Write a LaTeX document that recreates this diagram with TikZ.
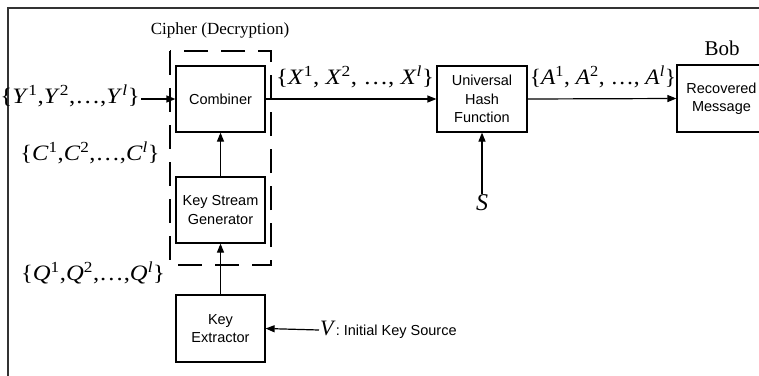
\documentclass[tikz,border=0pt]{standalone}
\usepackage{fontspec}
\setmainfont{Liberation Serif}
\newfontfamily\boxfont{Liberation Sans}
\usetikzlibrary{arrows.meta}

% italic letter with a superscript, and the {Z^1, Z^2, ..., Z^l} sequence
% #1 = horizontal stretch, #2 = separator after commas, #3 = letter
\newcommand\supv[2]{\textit{#1}\textsuperscript{#2}}
\newcommand\seqof[3]{\scalebox{#1}[1]{\{\supv{#3}{1},#2\supv{#3}{2},#2\ldots,#2\supv{#3}{\textit{l}}\}}}

\tikzset{
  blockbox/.style={draw, line width=1.2pt, minimum width=89pt, minimum height=66pt,
    align=center, inner sep=1pt, font=\boxfont\fontsize{14.5}{18.5}\selectfont},
  seqlabel/.style={inner sep=1pt, font=\fontsize{22}{25}\selectfont},
  flow/.style={line width=1.2pt, -{Triangle[length=9pt,width=7pt]}},
}

\begin{document}
\begin{tikzpicture}[x=1pt,y=-1pt]
\useasboundingbox (0,0) rectangle (759,375);
\clip (0,0) rectangle (759,375);

% surrounding frame (continues past the right and bottom edges)
\draw[line width=2pt, black!80] (8,390) -- (8,8) -- (780,8);

% cipher group
\node[font=\fontsize{17}{20}\selectfont] (ciphertitle) at (220,30) {Cipher (Decryption)};
\draw[line width=1.2pt, dash pattern=on 24pt off 13pt] (170,51) rectangle (271,265);

\node[blockbox] (comb) at (220.5,99) {Combiner};
\node[blockbox] (ksg) at (220.5,210) {Key Stream\\Generator};
\node[blockbox, minimum height=67pt] (kex) at (220.5,328.5) {Key\\Extractor};
\node[blockbox, minimum width=90pt] (hash) at (482,99) {Universal\\Hash\\Function};
\node[blockbox, minimum height=67pt] (rec) at (721.5,98.5) {Recovered\\Message};
\node[font=\fontsize{21}{24}\selectfont] (bob) at (722,48) {Bob};

% sequence labels
\node[seqlabel, anchor=east] (ylab) at (141,96) {\seqof{1.13}{}{Y}};
\node[seqlabel] (clab) at (90,153) {\seqof{1.11}{}{C}};
\node[seqlabel] (qlab) at (93,273) {\seqof{1.12}{}{Q}};
\node[seqlabel] (xlab) at (355,77) {\seqof{1.13}{ }{X}};
\node[seqlabel] (alab) at (603,77) {\seqof{1.06}{ }{A}};

% key inputs
\node[inner sep=1pt, font=\fontsize{24}{26}\selectfont\itshape] (slab) at (482,203) {S};
\node[inner sep=1pt, anchor=west] (vlab) at (319,330)
  {\fontsize{22}{24}\selectfont\textit{V}\boxfont\fontsize{14.5}{18}\selectfont: Initial Key Source};

% connectors
\draw[flow] (ylab.east |- comb.west) -- (comb.west);
\draw[flow] (ksg.north) -- (comb.south);
\draw[flow] (kex.north) -- (ksg.south);
\draw[flow] (comb.east) -- (hash.west);
\draw[flow] (slab.north) -- (hash.south);
\draw[flow] (hash.east) -- (rec.west);
\draw[flow] (vlab.west) -- (kex.east);
\end{tikzpicture}
\end{document}
